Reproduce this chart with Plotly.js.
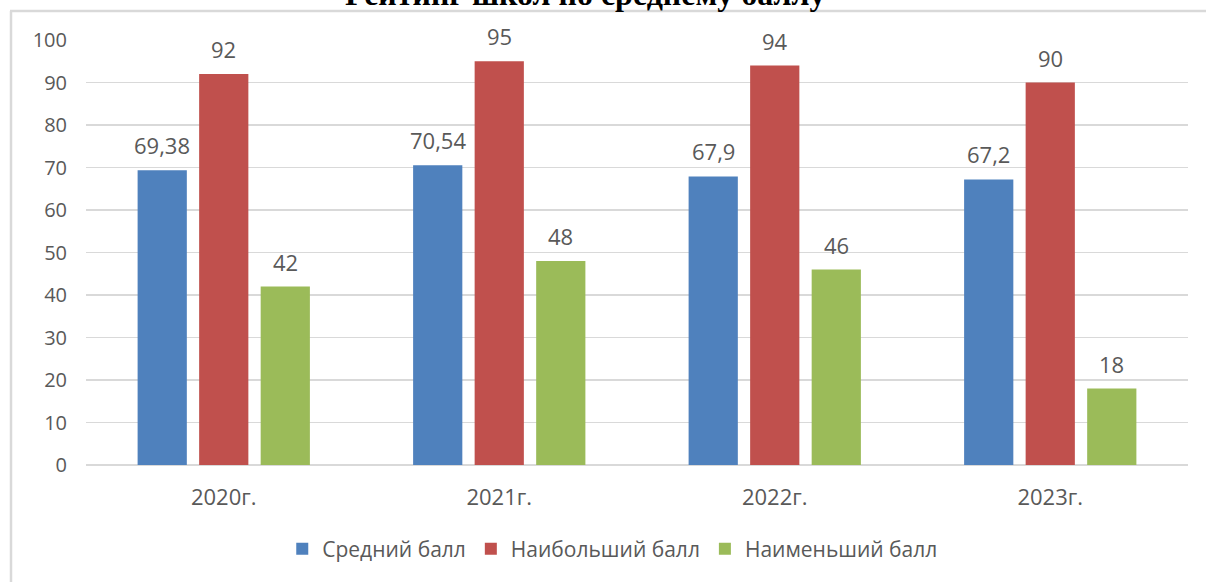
<!DOCTYPE html>
<html><head><meta charset="utf-8">
<script src="https://cdn.plot.ly/plotly-3.0.1.min.js"></script>
<style>html,body{margin:0;padding:0;background:#fff;}#chart{width:1206px;height:582px;}</style>
</head><body><div id="chart"></div>
<script>
const categories = ["2020г.", "2021г.", "2022г.", "2023г."];
const avgScore = [69.38, 70.54, 67.9, 67.2];
const maxScore = [92, 95, 94, 90];
const minScore = [42, 48, 46, 18];
const seriesNames = ["Средний балл", "Наибольший балл", "Наименьший балл"];
const chartTitle = "Рейтинг школ по среднему баллу";
const colors = ["#4f81bd", "#c0504d", "#9bbb59"];
const fmt = v => String(v).replace('.', ',');
const font = "Open Sans, sans-serif";
const txt = "#595959";
const series = [avgScore, maxScore, minScore];
const L = 86, R = 1188, T = 40, B = 465;
const bargap = 0.33;
const traces = series.map((vals, i) => ({
  type: 'bar', x: categories, y: vals, name: seriesNames[i],
  marker: {color: colors[i]},
  hoverinfo: 'none'
}));
const px = p => (p - L) / (R - L);
const py = p => (B - p) / (B - T);
// data labels as annotations, shifted to each bar's slot within the group
const catW = (R - L) / categories.length;
const slot = catW * (1 - bargap) / series.length;
const annotations = [];
series.forEach((vals, i) => {
  vals.forEach((v, j) => {
    annotations.push({
      xref: 'x', yref: 'y', x: categories[j], y: v, text: fmt(v), showarrow: false,
      xshift: (i - (series.length - 1) / 2) * slot, yanchor: 'middle', yshift: 25,
      font: {family: font, size: 22, color: txt}
    });
  });
});
// title, partly cut off at the top edge as in the reference
annotations.push({
  xref: 'paper', yref: 'paper', x: px(585), y: py(-6), xanchor: 'center', yanchor: 'middle',
  text: "<b>" + chartTitle + "</b>", showarrow: false,
  font: {family: "Liberation Serif, serif", size: 32, color: '#000'}
});
const layout = {
  width: 1206, height: 582,
  margin: {l: L, r: 1206 - R, t: T, b: 582 - B},
  paper_bgcolor: '#fff', plot_bgcolor: '#fff',
  font: {family: font, color: txt},
  barmode: 'group', bargap: bargap, bargroupgap: 0.2,
  xaxis: {type: 'category', tickfont: {size: 22, color: txt}, showgrid: false, showline: false, ticks: '', ticklabelstandoff: 17},
  yaxis: {range: [0, 100], dtick: 10, tickfont: {size: 20, color: txt}, gridcolor: '#d9d9d9', gridwidth: 1.5,
    zeroline: true, zerolinecolor: '#d9d9d9', zerolinewidth: 1.5, showline: false, ticks: '', ticklabelstandoff: 18},
  legend: {orientation: 'h', x: 0.478, xanchor: 'center', y: py(549), yanchor: 'middle',
    font: {size: 21, color: txt}, itemwidth: 30, traceorder: 'normal'},
  showlegend: true,
  annotations: annotations,
  shapes: [
    {type: 'line', xref: 'paper', yref: 'paper', x0: px(10), x1: px(1210), y0: py(11), y1: py(11), line: {color: '#d9d9d9', width: 2.5}},
    {type: 'line', xref: 'paper', yref: 'paper', x0: px(11), x1: px(11), y0: py(11), y1: py(590), line: {color: '#d9d9d9', width: 2.5}}
  ]
};
Plotly.newPlot('chart', traces, layout, {displayModeBar: false, staticPlot: true});
</script></body></html>
